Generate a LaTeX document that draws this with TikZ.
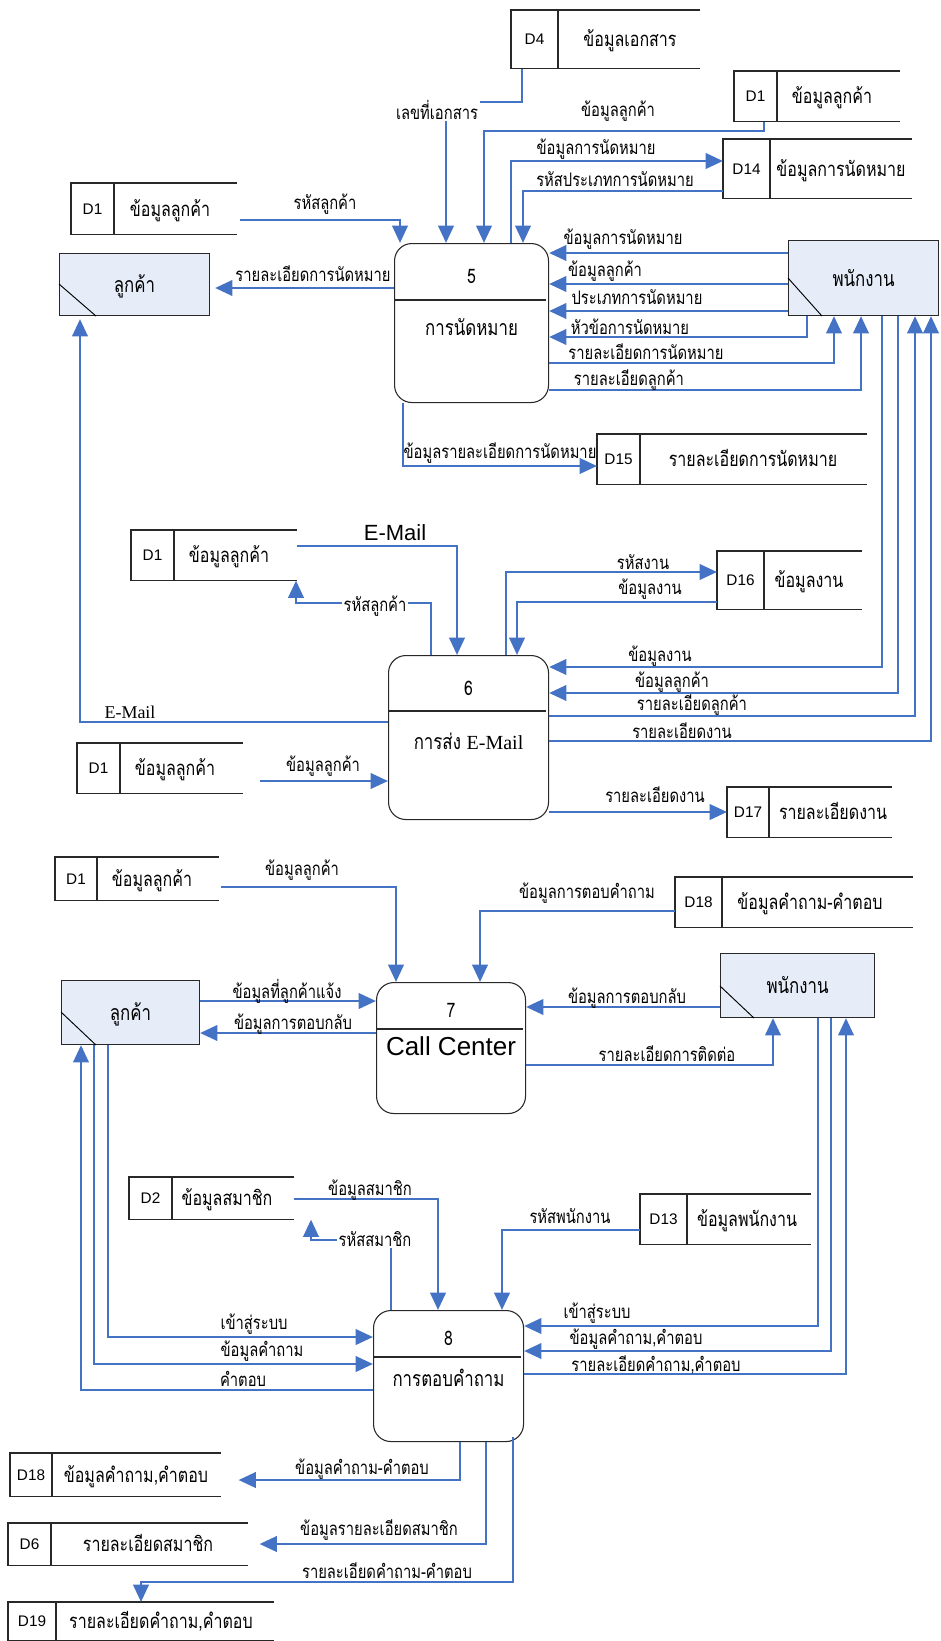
\documentclass[tikz,border=0pt]{standalone}
\usepackage{fontspec}
\setmainfont{Liberation Sans}
\newfontfamily\thai[Script=Thai,FakeStretch=0.79]{Loma}
\newfontfamily\tms{Liberation Serif}
\usetikzlibrary{arrows.meta,calc}
\definecolor{flowblue}{RGB}{68,114,196}
\definecolor{entfill}{RGB}{230,236,248}
\definecolor{boxline}{RGB}{40,40,40}
\tikzset{
  flow/.style={draw=flowblue, line width=2.1pt, -{Triangle[length=13pt,width=11.5pt]}},
  lbl/.style={font=\thai\fontsize{14}{16}\selectfont, inner sep=0.5pt, anchor=base, yshift=-4.6pt},
  lblw/.style={lbl, fill=white, inner sep=1.5pt},
  storebox/.style={rectangle, inner sep=0, anchor=north west},
  storeline/.style={draw=boxline, line width=0.8pt},
  storetxt/.style={font=\thai\fontsize{15.2}{17}\selectfont, inner sep=0, anchor=base, yshift=-5.6pt},
  storeid/.style={font=\fontsize{11.5}{13}\selectfont, inner sep=0},
  entbox/.style={rectangle, draw=boxline, fill=entfill, line width=0.8pt, inner sep=0, anchor=north west},
  enttxt/.style={font=\thai\fontsize{16}{18}\selectfont, inner sep=0, anchor=base, yshift=-6.2pt},
  procbox/.style={rectangle, draw=boxline, line width=0.8pt, rounded corners=13pt, inner sep=0, anchor=north west, fill=white},
  procnum/.style={font=\thai\fontsize{15}{17}\selectfont, inner sep=0},
  proctitle/.style={font=\thai\fontsize{16}{18}\selectfont, inner sep=0, anchor=base, yshift=-6.2pt},
}
% data store: name, left, top, right, bottom, divider x, id, text x, text
\newcommand\dstore[9]{%
  \node[storebox, minimum width={(#4-#2)*0.75pt}, minimum height={(#5-#3)*0.75pt}] (#1) at (#2,#3) {};
  \draw[storeline] (#1.north east) -- (#1.north west) -- (#1.south west) -- (#1.south east);
  \draw[storeline] (#1.north west -| #6,0) -- (#1.south west -| #6,0);
  \node[storeid] (#1-id) at ($(#1.west)!0.5!(#1.west -| #6,0)$) {#7};
  \node[storetxt] (#1-tx) at (#1.center -| #8,0) {#9};
}
% external entity: name, left, top, right, bottom, diagonal start y, diagonal end x, text
\newcommand\extent[8]{%
  \node[entbox, minimum width={(#4-#2)*0.75pt}, minimum height={(#5-#3)*0.75pt}] (#1) at (#2,#3) {};
  \draw[line width=0.7pt] (#1.west |- 0,#6) -- (#1.south -| #7,0);
  \node[enttxt] (#1-tx) at (#1.center) {#8};
}
% process: name, left, top, right, bottom, divider y, number, title, title y
\newcommand\process[9]{%
  \node[procbox, minimum width={(#4-#2)*0.75pt}, minimum height={(#5-#3)*0.75pt}] (#1) at (#2,#3) {};
  \draw[line width=0.8pt, draw=boxline] (#1.west |- 0,#6) -- ($(#1.east |- 0,#6)+(-3,0)$);
  \node[procnum] (#1-no) at ($(#1.north)!0.5!(#1.center |- 0,#6)+(0,5)$) {#7};
  \node[proctitle] (#1-tx) at (#1.center |- 0,#9) {#8};
}
\begin{document}
\begin{tikzpicture}[x=0.75pt, y=-0.75pt]
\useasboundingbox (0,0) rectangle (940,1641);

% ---------- data stores ----------
\dstore{d4}{511}{10}{699}{68}{558}{D4}{630}{ข้อมูลเอกสาร}
\dstore{d1a}{734}{71}{899}{121}{777}{D1}{832}{ข้อมูลลูกค้า}
\dstore{d14}{723}{139}{911}{198}{770}{D14}{841}{ข้อมูลการนัดหมาย}
\dstore{d1b}{71}{183}{236}{234}{114}{D1}{170}{ข้อมูลลูกค้า}
\dstore{d15}{597}{434}{866}{484}{640}{D15}{753}{รายละเอียดการนัดหมาย}
\dstore{d1c}{131}{530}{296}{580}{174}{D1}{229}{ข้อมูลลูกค้า}
\dstore{d16}{717}{551}{861}{609}{764}{D16}{809}{ข้อมูลงาน}
\dstore{d1d}{77}{743}{242}{793}{120}{D1}{175}{ข้อมูลลูกค้า}
\dstore{d17}{727}{787}{891}{837}{769}{D17}{833}{รายละเอียดงาน}
\dstore{d1e}{55}{857}{218}{900}{97}{D1}{152}{ข้อมูลลูกค้า}
\dstore{d18a}{675}{877}{912}{927}{722}{D18}{810}{ข้อมูลคำถาม-คำตอบ}
\dstore{d2}{129}{1177}{293}{1219}{172}{D2}{227}{ข้อมูลสมาชิก}
\dstore{d13}{640}{1194}{810}{1244}{687}{D13}{747}{ข้อมูลพนักงาน}
\dstore{d18b}{10}{1453}{220}{1496}{52}{D18}{136}{ข้อมูลคำถาม,คำตอบ}
\dstore{d6}{8}{1523}{247}{1565}{51}{D6}{148}{รายละเอียดสมาชิก}
\dstore{d19}{8}{1602}{273}{1640}{56}{D19}{161}{รายละเอียดคำถาม,คำตอบ}

% ---------- external entities ----------
\extent{c1}{59}{253}{209}{315}{284}{96}{ลูกค้า}
\extent{e1}{788}{240}{938}{315}{278}{822}{พนักงาน}
\extent{c2}{61}{980}{199}{1044}{1012}{96}{ลูกค้า}
\extent{e2}{720}{953}{874}{1017}{986}{754}{พนักงาน}

% ---------- processes ----------
\process{p5}{394}{243}{548}{402}{300}{5}{การนัดหมาย}{327}
\process{p6}{388}{655}{548}{819}{711}{6}{การส่ง {\tms\fontsize{15}{17}\selectfont E-Mail}}{741}
\process{p7}{376}{982}{525}{1113}{1029}{7}{{\fontspec{Liberation Sans}\fontsize{19.5}{22}\selectfont Call Center}}{1047}
\process{p8}{373}{1310}{523}{1441}{1357}{8}{การตอบคำถาม}{1378}

% ---------- flows of process 5 ----------
\draw[flow] (d4.south -| 522,0) -- (522,102) -- (446,102) -- (p5.north -| 446,0);
\node[lblw] (l1) at (437,113) {เลขที่เอกสาร};
\draw[flow] (d1a.south -| 764,0) -- (764,131) -- (484,131) -- (p5.north -| 484,0);
\node[lbl] (l2) at (618,110) {ข้อมูลลูกค้า};
\draw[flow] (p5.north -| 511,0) -- (511,161) -- (d14.west |- 0,161);
\node[lbl] (l3) at (596,148) {ข้อมูลการนัดหมาย};
\draw[flow] (d14.west |- 0,191) -- (523,191) -- (p5.north -| 523,0);
\node[lbl] (l4) at (615,180) {รหัสประเภทการนัดหมาย};
\draw[flow] ($(d1b.east |- 0,220)+(3,0)$) -- (400,220) -- (p5.north -| 400,0);
\node[lbl] (l5) at (325,203) {รหัสลูกค้า};
\draw[flow] (p5.west |- 0,288) -- ($(c1.east |- 0,288)+(5,0)$);
\node[lbl] (l6) at (313,275) {รายละเอียดการนัดหมาย};
\draw[flow] (e1.west |- 0,253) -- (p5.east |- 0,253);
\node[lbl] (l7) at (623,238) {ข้อมูลการนัดหมาย};
\draw[flow] (e1.west |- 0,284) -- (p5.east |- 0,284);
\node[lbl] (l8) at (605,270) {ข้อมูลลูกค้า};
\draw[flow] (e1.west |- 0,311) -- (p5.east |- 0,311);
\node[lbl] (l9) at (637,298) {ประเภทการนัดหมาย};
\draw[flow] (e1.south -| 807,0) -- (807,337) -- (p5.east |- 0,337);
\node[lbl] (l10) at (630,328) {หัวข้อการนัดหมาย};
\draw[flow] (p5.east |- 0,363) -- (834,363) -- (e1.south -| 834,0);
\node[lbl] (l11) at (646,353) {รายละเอียดการนัดหมาย};
\draw[flow] (p5.east |- 0,390) -- (861,390) -- (e1.south -| 861,0);
\node[lbl] (l12) at (629,379) {รายละเอียดลูกค้า};
\draw[flow] (p5.south -| 403,0) -- (403,466) -- (d15.west |- 0,466);
\node[lbl] (l13) at (500,452) {ข้อมูลรายละเอียดการนัดหมาย};

% ---------- flows of process 6 ----------
\draw[flow] (e1.south -| 882,0) -- (882,667) -- (p6.east |- 0,667);
\node[lbl] (l14) at (660,655) {ข้อมูลงาน};
\draw[flow] (e1.south -| 898,0) -- (898,693) -- (p6.east |- 0,693);
\node[lbl] (l15) at (672,681) {ข้อมูลลูกค้า};
\draw[flow] (p6.east |- 0,716) -- (915,716) -- (e1.south -| 915,0);
\node[lbl] (l16) at (692,704) {รายละเอียดลูกค้า};
\draw[flow] (p6.east |- 0,741) -- (931,741) -- (e1.south -| 931,0);
\node[lbl] (l17) at (682,732) {รายละเอียดงาน};
\draw[flow] (p6.north -| 506,0) -- (506,572) -- (d16.west |- 0,572);
\node[lbl] (l18) at (643,563) {รหัสงาน};
\draw[flow] (d16.west |- 0,602) -- (517,602) -- (p6.north -| 517,0);
\node[lbl] (l19) at (650,588) {ข้อมูลงาน};
\draw[flow] (p6.east |- 0,812) -- (d17.west |- 0,812);
\node[lbl] (l20) at (655,796) {รายละเอียดงาน};
\draw[flow] (p6.west |- 0,722) -- (80,722) -- ($(c1.south -| 80,0)+(0,3)$);
\node[lbl, font=\tms\fontsize{13.5}{15}\selectfont, yshift=0.8pt] (l21) at (130,713) {E-Mail};
\draw[flow] (d1c.east |- 0,546) -- (457,546) -- (p6.north -| 457,0);
\node[lbl, font=\fontsize{16.5}{18}\selectfont, yshift=-1pt] (l22) at (395,533) {E-Mail};
\draw[flow] (p6.north -| 431,0) -- (431,603) -- (296,603) -- (d1c.south -| 296,0);
\node[lblw] (l23) at (375,605) {รหัสลูกค้า};
\draw[flow] ($(d1d.east |- 0,781)+(17,0)$) -- (p6.west |- 0,781);
\node[lbl] (l24) at (323,765) {ข้อมูลลูกค้า};

% ---------- flows of process 7 ----------
\draw[flow] ($(d1e.east |- 0,887)+(2,0)$) -- (396,887) -- (p7.north -| 396,0);
\node[lbl] (l25) at (302,869) {ข้อมูลลูกค้า};
\draw[flow] (d18a.west |- 0,911) -- (480,911) -- (p7.north -| 480,0);
\node[lbl] (l26) at (587,892) {ข้อมูลการตอบคำถาม};
\draw[flow] (c2.east |- 0,1001) -- (p7.west |- 0,1001);
\node[lbl] (l27) at (287,992) {ข้อมูลที่ลูกค้าแจ้ง};
\draw[flow] (p7.west |- 0,1033) -- (c2.east |- 0,1033);
\node[lbl] (l28) at (293,1023) {ข้อมูลการตอบกลับ};
\draw[flow] (e2.west |- 0,1007) -- (p7.east |- 0,1007);
\node[lbl] (l29) at (627,997) {ข้อมูลการตอบกลับ};
\draw[flow] (p7.east |- 0,1065) -- (773,1065) -- (e2.south -| 773,0);
\node[lbl] (l30) at (667,1055) {รายละเอียดการติดต่อ};

% ---------- flows of process 8 ----------
\draw[flow] (d2.east |- 0,1199) -- (438,1199) -- (p8.north -| 438,0);
\node[lbl] (l31) at (370,1189) {ข้อมูลสมาชิก};
\draw[flow] (p8.north -| 391,0) -- (391,1240) -- (311,1240) -- (d2.south -| 311,0);
\node[lblw] (l32) at (375,1240) {รหัสสมาชิก};
\draw[flow] (d13.west |- 0,1230) -- (502,1230) -- (p8.north -| 502,0);
\node[lbl] (l33) at (570,1217) {รหัสพนักงาน};
\draw[flow] (e2.south -| 818,0) -- (818,1326) -- (p8.east |- 0,1326);
\node[lbl] (l34) at (597,1312) {เข้าสู่ระบบ};
\draw[flow] (e2.south -| 831,0) -- (831,1351) -- (p8.east |- 0,1351);
\node[lbl] (l35) at (636,1338) {ข้อมูลคำถาม,คำตอบ};
\draw[flow] (p8.east |- 0,1374) -- (846,1374) -- (e2.south -| 846,0);
\node[lbl] (l36) at (656,1365) {รายละเอียดคำถาม,คำตอบ};
\draw[flow] (c2.south -| 108,0) -- (108,1337) -- (p8.west |- 0,1337);
\node[lbl] (l37) at (254,1323) {เข้าสู่ระบบ};
\draw[flow] (c2.south -| 94,0) -- (94,1364) -- (p8.west |- 0,1364);
\node[lbl] (l38) at (262,1350) {ข้อมูลคำถาม};
\draw[flow] (p8.west |- 0,1390) -- (81,1390) -- (c2.south -| 81,0);
\node[lbl] (l39) at (243,1380) {คำตอบ};
\draw[flow] (p8.south -| 460,0) -- (460,1480) -- ($(d18b.east |- 0,1480)+(18,0)$);
\node[lbl] (l40) at (362,1468) {ข้อมูลคำถาม-คำตอบ};
\draw[flow] (p8.south -| 486,0) -- (486,1544) -- ($(d6.east |- 0,1544)+(12,0)$);
\node[lbl] (l41) at (379,1529) {ข้อมูลรายละเอียดสมาชิก};
\draw[flow] ($(p8.south -| 513,0)+(0,-5)$) -- (513,1582) -- (141,1582) -- (d19.north -| 141,0);
\node[lbl] (l42) at (387,1572) {รายละเอียดคำถาม-คำตอบ};
\end{tikzpicture}
\end{document}
